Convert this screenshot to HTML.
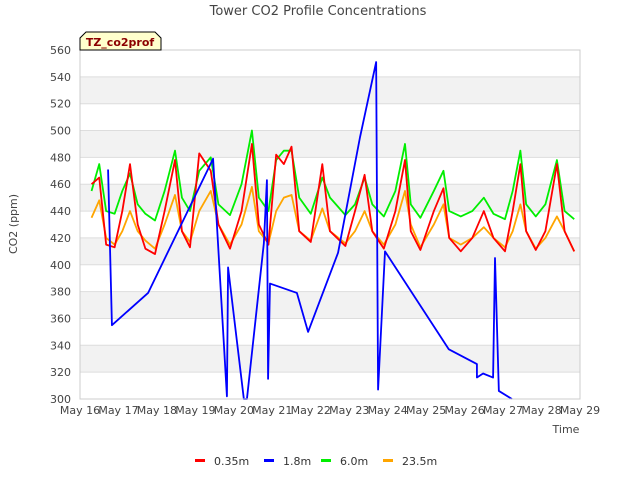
<!DOCTYPE html>
<html><head><meta charset="utf-8"><style>
body{margin:0;background:#fff;font-family:"Liberation Sans","DejaVu Sans",sans-serif}
text{font-family:"DejaVu Sans","Liberation Sans",sans-serif}
</style></head><body>
<svg id="chart" width="640" height="480" xmlns="http://www.w3.org/2000/svg">
<text x="318" y="15" text-anchor="middle" font-size="13" fill="#444">Tower CO2 Profile Concentrations</text>
<g id="grid"></g>
<g id="series"></g>
<g id="axes"></g>
<text transform="translate(17,224) rotate(-90)" text-anchor="middle" font-size="11" fill="#444">CO2 (ppm)</text>
<text x="566" y="433" text-anchor="middle" font-size="11" fill="#444">Time</text>
<g>
<path d="M80,50 L80,38 L86,32 L155,32 L161,38 L161,50 Z" fill="#ffffcc" stroke="#000" stroke-width="1"/>
<text x="120" y="46" text-anchor="middle" font-size="11" font-weight="bold" fill="#8b0000">TZ_co2prof</text>
</g>
<g id="legend"></g>
</svg>
<script>
const xTicks=["May 16","May 17","May 18","May 19","May 20","May 21","May 22","May 23","May 24","May 25","May 26","May 27","May 28","May 29"];
const yTicks=[300,320,340,360,380,400,420,440,460,480,500,520,540,560];
const t=[0.3,0.5,0.68,0.9,1.1,1.3,1.5,1.7,1.95,2.2,2.47,2.65,2.86,3.1,3.4,3.6,3.9,4.2,4.47,4.65,4.9,5.1,5.3,5.5,5.7,6.0,6.3,6.5,6.9,7.15,7.4,7.6,7.9,8.2,8.45,8.6,8.85,9.2,9.45,9.6,9.9,10.2,10.5,10.75,11.05,11.25,11.45,11.6,11.85,12.1,12.4,12.6,12.85];
const red=[460,465,415,413,440,475,430,412,408,440,478,425,413,483,470,430,412,440,490,430,415,482,475,488,425,417,475,425,414,440,467,425,412,440,478,425,411,440,457,420,410,420,440,420,410,440,475,425,411,425,475,425,410];
const green=[455,475,440,438,455,468,445,438,433,455,485,450,440,470,480,445,437,460,500,450,440,478,485,485,450,438,465,450,437,445,465,445,436,455,490,445,435,455,470,440,436,440,450,438,434,455,485,445,436,445,478,440,434];
const orange=[435,448,420,415,425,440,425,418,412,430,452,425,417,440,455,430,415,430,458,425,416,440,450,452,425,418,442,425,416,425,440,425,415,430,455,430,413,430,445,420,415,420,428,420,413,425,445,425,412,420,436,425,410];
const blueT=[0.73,0.83,1.77,3.46,3.82,3.85,4.26,4.34,4.78,4.86,4.89,4.94,5.64,5.93,6.71,7.28,7.70,7.75,7.93,9.59,10.32,10.32,10.48,10.74,10.79,10.89,11.23];
const blueV=[471,355,379,479,302,398,300,300,416,463,315,386,379,350,409,495,551,307,410,337,326,316,319,316,405,306,300];
const NS="http://www.w3.org/2000/svg";
const X0=80,X1=580,Y0=399,Y1=50;
const xs=d=>X0+d*(X1-X0)/13;
const ys=v=>Y0-(v-300)*(Y0-Y1)/260;
function mk(tag,attrs,parent){const e=document.createElementNS(NS,tag);for(const k in attrs)e.setAttribute(k,attrs[k]);parent.appendChild(e);return e;}
const grid=document.getElementById('grid'),axes=document.getElementById('axes'),ser=document.getElementById('series'),leg=document.getElementById('legend');
for(let i=0;i<yTicks.length-1;i++){
  if(i%2===1){const r=mk('rect',{x:X0,y:ys(yTicks[i+1]),width:X1-X0,height:ys(yTicks[i])-ys(yTicks[i+1]),fill:'#f2f2f2'},grid);
  
  }
}
yTicks.forEach(v=>{
  const l=mk('line',{x1:X0,x2:X1,y1:ys(v),y2:ys(v),stroke:'#ddd'},grid);
  
  
  const tx=mk('text',{x:X0-9,y:ys(v)+4,'text-anchor':'end','font-size':'11',fill:'#444'},axes);
  tx.textContent=v;
  
  
});
const fr=mk('rect',{x:X0,y:Y1,width:X1-X0,height:Y0-Y1,fill:'none',stroke:'#ccc'},axes);


xTicks.forEach((s,i)=>{
  const tx=mk('text',{x:xs(i),y:414,'text-anchor':'middle','font-size':'11',fill:'#444'},axes);
  tx.textContent=s;
  
  
});
function line(tt,vv,color,name){
  const p=mk('polyline',{points:tt.map((d,i)=>xs(d)+','+ys(vv[i])).join(' '),fill:'none',stroke:color,'stroke-width':'1.8','stroke-linejoin':'round'},ser);
  
  
}
line(t,orange,'#ffa500','series-23.5m');
line(t,green,'#00ee00','series-6.0m');
line(t,red,'#ff0000','series-0.35m');
line(blueT,blueV,'#0000ff','series-1.8m');
const L=[['0.35m','#ff0000',195],['1.8m','#0000ff',264],['6.0m','#00ee00',321],['23.5m','#ffa500',383]];
L.forEach(([n,c,x])=>{
  const g=mk('g',{},leg);
  
  
  mk('rect',{x:x,y:459,width:10,height:3,fill:c},g);
  const tx=mk('text',{x:x+19,y:465,'font-size':'11',fill:'#333'},g);
  tx.textContent=n;
});
</script>
</body></html>
